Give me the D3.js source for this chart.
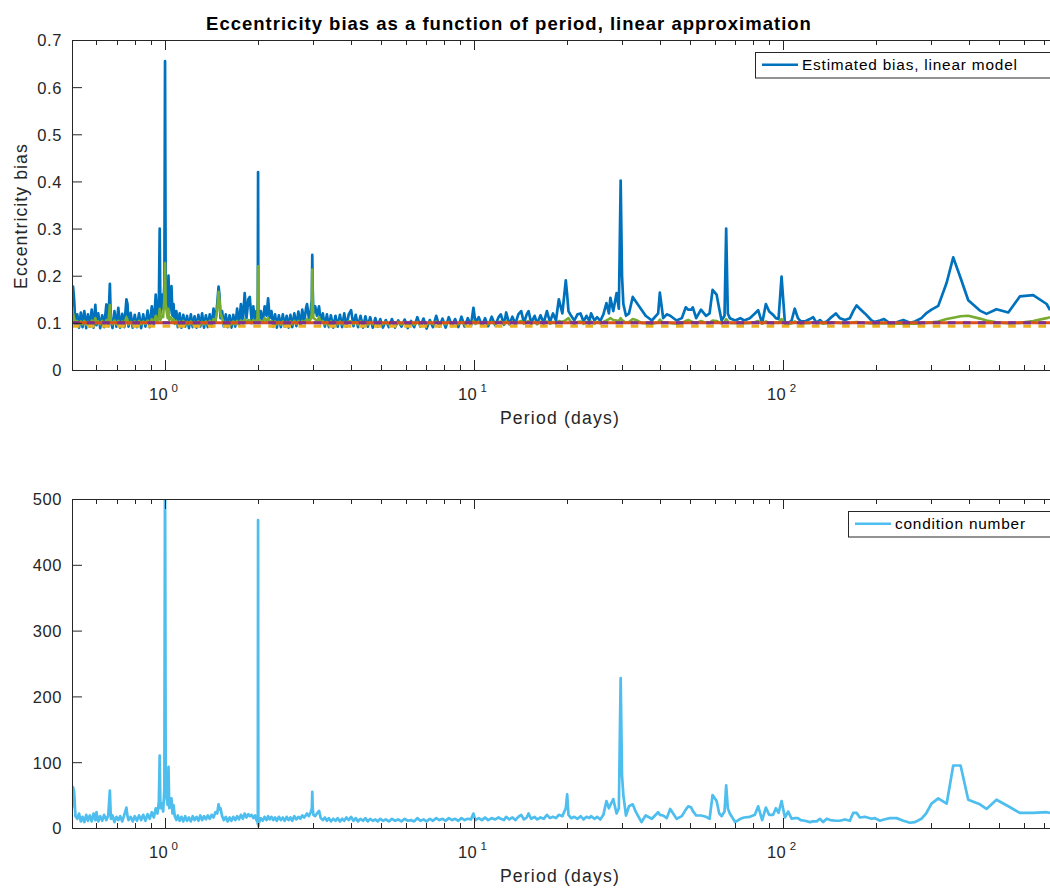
<!DOCTYPE html>
<html><head><meta charset="utf-8">
<script src="https://cdn.jsdelivr.net/npm/d3@7"></script>
<style>
body{margin:0;background:#fff}
svg{display:block}
</style>
</head><body>
<svg id="chart" width="1050" height="888"></svg>
<script>
// ---------------- DATA ----------------
const period = [
0.500,0.504,0.508,0.513,0.520,0.527,0.534,0.541,0.548,0.556,
0.563,0.571,0.579,0.587,0.595,0.600,0.608,0.617,0.626,0.635,
0.646,0.655,0.663,0.668,0.676,0.686,0.696,0.706,0.716,0.727,
0.738,0.750,0.756,0.762,0.774,0.786,0.798,0.811,0.824,0.837,
0.850,0.864,0.878,0.892,0.906,0.920,0.933,0.945,0.955,0.961,
0.966,0.975,0.986,0.995,1.000,1.005,1.012,1.020,1.026,1.032,
1.040,1.049,1.057,1.065,1.075,1.088,1.100,
1.115,1.130,1.146,1.162,1.178,1.195,1.212,1.229,1.246,1.264,
1.282,1.300,1.318,1.337,1.356,1.375,1.395,1.415,1.435,1.455,
1.475,1.490,1.500,1.512,1.530,1.550,1.572,1.594,1.617,1.640,
1.663,1.687,1.711,1.735,1.760,1.785,1.810,1.835,1.860,1.880,
1.905,1.930,1.955,1.975,1.990,1.996,2.000,2.004,2.012,
2.040,2.070,2.100,2.130,2.155,2.180,2.210,2.240,2.270,2.300,
2.335,2.370,2.405,2.440,2.475,2.510,2.545,2.580,2.620,2.660,
2.700,2.740,2.780,2.820,2.860,2.880,2.920,2.960,2.985,2.995,
3.005,3.020,3.060,3.100,3.150,3.190,3.240,3.290,3.340,3.390,
3.440,3.500,3.560,3.620,3.680,3.740,3.800,3.860,3.930,4.000,
4.070,4.140,4.210,4.290,4.370,4.450,4.530,4.610,4.700,4.790,
4.880,4.970,5.070,
5.18,5.30,5.42,5.55,5.68,5.82,5.96,6.10,6.25,6.40,
6.55,6.70,6.86,7.02,7.19,7.36,7.54,7.72,7.90,8.09,
8.28,8.48,8.68,8.89,9.10,9.32,9.54,9.77,9.95,10.1,
10.35,10.6,10.85,11.1,11.4,11.7,12.0,12.2,12.5,12.7,
13.0,13.3,13.6,13.9,14.2,14.5,14.8,15.0,15.3,15.7,
16.0,16.4,16.8,17.2,17.6,18.0,18.4,18.8,19.3,19.8,
20.0,20.2,20.6,
21.1,21.6,22.1,22.6,23.1,23.6,23.9,24.5,25.0,25.6,
26.2,26.8,27.3,27.6,28.2,28.9,29.4,29.8,30.1,30.4,
31.0,31.7,32.6,33.4,34.8,35.9,37.6,39.4,39.9,40.9,
42.0,43.1,45.2,47.0,48.4,49.3,50.4,51.0,52.3,54.2,
56.3,57.8,59.1,60.9,62.1,63.2,64.6,65.4,66.2,67.2,
69.9,72.7,74.8,
78,81,83,85.5,87.9,90.1,92.8,94.7,96.6,98.8,
101.3,103.8,106.5,109,111.6,114,117.5,122,125,128.3,
131.5,134.7,138.3,142,148,152.5,158.4,164.4,168.5,172.8,
177,183.8,193.2,198,205.6,212,221.4,232.8,244.7,257,
267,280,290,302,317.5,338,355,375,397,433,
455,490,535,583,644,712,730
];

// Estimated bias, linear model (blue)
const biasLinear = [
0.135,0.177,0.150,0.095,0.118,0.090,0.122,0.091,0.125,0.089,
0.118,0.092,0.128,0.090,0.138,0.095,0.120,0.089,0.116,0.091,
0.139,0.093,0.183,0.105,0.089,0.125,0.092,0.132,0.090,0.119,
0.091,0.150,0.140,0.092,0.121,0.090,0.117,0.091,0.120,0.089,
0.118,0.092,0.126,0.091,0.135,0.095,0.160,0.110,0.140,0.300,
0.120,0.160,0.130,0.180,0.655,0.160,0.175,0.130,0.200,0.120,
0.150,0.178,0.115,0.140,0.100,0.125,0.091,
0.120,0.090,0.117,0.092,0.115,0.089,0.118,0.091,0.114,0.090,
0.117,0.092,0.120,0.090,0.116,0.091,0.118,0.092,0.130,0.100,
0.140,0.177,0.160,0.110,0.125,0.092,0.118,0.091,0.116,0.090,
0.117,0.092,0.130,0.095,0.140,0.100,0.163,0.110,0.150,0.155,
0.105,0.135,0.105,0.125,0.110,0.150,0.420,0.130,0.105,
0.125,0.100,0.135,0.115,0.152,0.110,0.125,0.092,0.118,0.090,
0.116,0.091,0.118,0.092,0.115,0.090,0.117,0.091,0.120,0.093,
0.124,0.095,0.128,0.100,0.132,0.140,0.110,0.125,0.150,0.244,
0.170,0.120,0.135,0.115,0.135,0.100,0.120,0.092,0.118,0.091,
0.116,0.090,0.115,0.092,0.117,0.091,0.120,0.092,0.118,0.127,
0.093,0.117,0.091,0.115,0.090,0.114,0.092,0.112,0.090,0.110,
0.092,0.108,0.090,
0.106,0.091,0.108,0.090,0.105,0.092,0.107,0.089,0.104,0.091,
0.112,0.092,0.109,0.088,0.106,0.091,0.115,0.092,0.109,0.090,
0.112,0.093,0.108,0.091,0.113,0.092,0.110,0.094,0.132,0.100,
0.112,0.094,0.110,0.093,0.113,0.095,0.112,0.118,0.096,0.122,
0.097,0.113,0.098,0.118,0.125,0.100,0.118,0.125,0.100,0.115,
0.098,0.116,0.100,0.125,0.102,0.120,0.105,0.150,0.120,0.190,
0.160,0.125,0.115,
0.105,0.118,0.120,0.103,0.115,0.104,0.120,0.105,0.112,0.104,
0.118,0.142,0.120,0.153,0.125,0.163,0.130,0.402,0.200,0.140,
0.115,0.120,0.155,0.145,0.128,0.115,0.105,0.120,0.164,0.110,
0.118,0.115,0.105,0.110,0.133,0.128,0.128,0.133,0.110,0.128,
0.115,0.120,0.170,0.160,0.130,0.105,0.115,0.300,0.120,0.110,
0.105,0.110,0.105,
0.110,0.120,0.127,0.099,0.140,0.124,0.117,0.110,0.108,0.198,
0.100,0.099,0.105,0.130,0.110,0.103,0.103,0.108,0.112,0.100,
0.106,0.100,0.103,0.110,0.120,0.110,0.106,0.110,0.125,0.137,
0.130,0.120,0.105,0.102,0.105,0.108,0.099,0.101,0.106,0.100,
0.103,0.110,0.120,0.128,0.136,0.185,0.239,0.195,0.148,0.126,
0.119,0.129,0.122,0.156,0.159,0.140,0.127
];

// second bias estimate (green)
const biasOther = [
0.105,0.120,0.110,0.098,0.104,0.097,0.103,0.097,0.104,0.096,
0.102,0.097,0.105,0.098,0.110,0.099,0.103,0.097,0.104,0.096,
0.106,0.099,0.138,0.104,0.097,0.105,0.097,0.104,0.097,0.103,
0.098,0.112,0.106,0.097,0.102,0.097,0.103,0.096,0.104,0.097,
0.103,0.098,0.105,0.098,0.108,0.100,0.115,0.104,0.112,0.130,
0.106,0.115,0.112,0.150,0.227,0.140,0.125,0.110,0.130,0.106,
0.112,0.110,0.103,0.108,0.098,0.104,0.097,
0.103,0.097,0.104,0.096,0.102,0.097,0.103,0.097,0.102,0.096,
0.103,0.097,0.102,0.097,0.103,0.097,0.104,0.098,0.108,0.104,
0.125,0.166,0.150,0.120,0.110,0.098,0.102,0.097,0.102,0.097,
0.103,0.097,0.104,0.098,0.105,0.099,0.108,0.100,0.106,0.105,
0.099,0.106,0.100,0.105,0.110,0.140,0.220,0.120,0.100,
0.104,0.102,0.110,0.104,0.110,0.101,0.104,0.097,0.103,0.097,
0.102,0.096,0.103,0.097,0.102,0.096,0.103,0.097,0.104,0.098,
0.104,0.099,0.104,0.100,0.106,0.108,0.102,0.108,0.120,0.213,
0.140,0.110,0.108,0.102,0.112,0.100,0.104,0.097,0.102,0.096,
0.103,0.097,0.102,0.097,0.103,0.097,0.102,0.097,0.104,0.103,
0.097,0.102,0.097,0.103,0.097,0.102,0.096,0.102,0.097,0.101,
0.097,0.102,0.097,
0.102,0.097,0.101,0.097,0.102,0.096,0.101,0.097,0.102,0.096,
0.102,0.097,0.101,0.096,0.102,0.097,0.103,0.097,0.101,0.097,
0.102,0.097,0.101,0.097,0.102,0.097,0.101,0.098,0.104,0.098,
0.102,0.097,0.101,0.097,0.102,0.097,0.102,0.103,0.097,0.103,
0.098,0.102,0.097,0.102,0.104,0.098,0.102,0.104,0.098,0.102,
0.097,0.102,0.098,0.103,0.098,0.102,0.099,0.104,0.102,0.106,
0.108,0.110,0.102,
0.098,0.102,0.103,0.098,0.102,0.098,0.103,0.098,0.102,0.099,
0.102,0.105,0.108,0.110,0.106,0.105,0.104,0.110,0.106,0.104,
0.100,0.102,0.108,0.106,0.100,0.099,0.098,0.101,0.107,0.100,
0.101,0.100,0.098,0.099,0.104,0.106,0.103,0.102,0.099,0.104,
0.100,0.100,0.105,0.104,0.101,0.099,0.102,0.108,0.103,0.100,
0.099,0.100,0.099,
0.100,0.102,0.104,0.098,0.103,0.100,0.099,0.101,0.100,0.108,
0.098,0.097,0.099,0.103,0.100,0.098,0.099,0.100,0.101,0.099,
0.100,0.098,0.099,0.100,0.101,0.100,0.099,0.100,0.101,0.102,
0.101,0.100,0.099,0.098,0.099,0.099,0.098,0.098,0.099,0.098,
0.098,0.099,0.100,0.101,0.103,0.108,0.111,0.114,0.115,0.109,
0.105,0.101,0.099,0.100,0.104,0.110,0.112
];

// condition number (light blue, lower panel)
const condNumber = [
30,62,55,18,14,22,10,17,9,20,
11,19,10,22,12,24,10,18,11,20,
12,19,57,14,19,9,17,12,18,10,
20,31,18,12,17,10,18,11,19,12,
20,11,21,14,24,16,30,22,40,110,
30,38,25,60,560,60,45,35,93,30,
40,45,22,35,18,12,19,
11,17,10,18,11,16,10,18,12,17,
11,19,12,18,13,19,14,20,16,24,
22,36,28,30,18,12,17,10,16,11,
17,12,18,13,20,14,22,16,21,18,
20,15,19,12,10,6,468,3,8,
15,11,17,12,18,13,17,12,16,11,
17,12,16,11,17,12,16,11,18,13,
17,14,19,16,20,22,18,24,30,55,
30,20,18,22,26,15,12,16,11,15,
10,14,11,15,10,14,11,16,12,17,
11,15,10,14,11,15,10,14,11,13,
10,14,11,
13,10,14,11,13,10,14,11,12,10,
15,11,13,10,14,11,15,12,14,11,
15,12,14,11,15,12,14,13,22,12,
15,12,16,12,15,13,16,14,12,17,
13,16,12,17,20,13,16,22,14,17,
13,16,14,20,15,17,15,20,18,30,
51,20,15,
17,14,18,13,17,15,18,14,17,13,
20,41,30,35,44,22,30,228,80,50,
19,33,36,24,9,19,14,24,20,19,
15,29,14,18,28,33,31,26,19,19,
17,14,50,41,22,18,25,65,30,22,
9,14,16,
17,20,33,12,31,20,20,30,23,41,
16,25,14,15,15,12,11,9,10,10,
14,9,14,12,11,11,13,11,23,23,
16,17,14,15,11,13,15,15,11,8,
9,14,22,37,45,37,95,95,43,36,
29,43,33,23,23,24,23
];

// constant reference levels in the upper panel
const levelOrange = 0.1;
const levelPurple = 0.1;
const levelYellow = 0.093;

// axis ticks
const xDomain = [0.5, 730];
const xMajorTicks = [1, 10, 100];
const xMajorExps = ["0", "1", "2"];
const xMinorTicks = [0.6,0.7,0.8,0.9,2,3,4,5,6,7,8,9,20,30,40,50,60,70,80,90,200,300,400,500,600,700];
const yTicksTop = [0,0.1,0.2,0.3,0.4,0.5,0.6,0.7];
const yTickLabelsTop = ["0","0.1","0.2","0.3","0.4","0.5","0.6","0.7"];
const yTicksBottom = [0,100,200,300,400,500];
const yTickLabelsBottom = ["0","100","200","300","400","500"];

const titleText = "Eccentricity bias as a function of period, linear approximation";
const xLabelText = "Period (days)";
const yLabelTopText = "Eccentricity bias";
const legendTopText = "Estimated bias, linear model";
const legendBottomText = "condition number";

// ---------------- DRAWING ----------------
const FONT = '"Liberation Sans", Arial, Helvetica, sans-serif';
const AX = "#262626";
const C = {blue:"#0072BD", orange:"#D95319", yellow:"#EDB120", purple:"#7E2F8E", green:"#77AC30", light:"#4DBEEE"};
const n = Math.min(period.length, biasLinear.length, biasOther.length, condNumber.length);
const idx = d3.range(n);

const svg = d3.select("#chart");
const x = d3.scaleLog().domain(xDomain).range([72, 1050]);

function panel(cfg){
  const {id, top, bottom, y} = cfg;
  const g = svg.append("g");
  svg.append("clipPath").attr("id", id).append("rect")
    .attr("x", 72).attr("y", top).attr("width", 990).attr("height", bottom - top);
  const plot = g.append("g").attr("clip-path", `url(#${id})`);

  cfg.series.forEach(s => {
    if (s.values) {
      const line = d3.line().x(i => x(period[i])).y(i => y(s.values[i]));
      plot.append("path").attr("d", line(idx))
        .attr("fill","none").attr("stroke", s.color).attr("stroke-width", s.width)
        .attr("stroke-linejoin","round");
    } else {
      plot.append("line")
        .attr("x1", x(xDomain[0])).attr("x2", x(xDomain[1]))
        .attr("y1", y(s.level)).attr("y2", y(s.level))
        .attr("stroke", s.color).attr("stroke-width", s.width)
        .attr("stroke-dasharray", s.dash || null);
    }
  });

  // y axis (ticks inward)
  const ya = g.append("g").attr("transform","translate(72,0)")
    .call(d3.axisLeft(y).tickValues(cfg.yTicks).tickFormat((d,i)=>cfg.yLabels[i])
      .tickSizeInner(-10).tickSizeOuter(0).tickPadding(10));
  ya.select(".domain").remove();
  ya.selectAll("line").attr("stroke", AX);
  ya.selectAll("text").attr("font-family", FONT).attr("font-size", 16.5)
    .attr("fill", AX).attr("letter-spacing", 0.6).attr("dy","0.36em");

  // frame (left, bottom, top)
  g.append("path")
    .attr("d", `M72.5,${top+0.5}V${bottom+0.5}M72,${bottom+0.5}H1050M72,${top+0.5}H1050`)
    .attr("fill","none").attr("stroke", AX).attr("stroke-width", 1);

  // x ticks on bottom and top edges
  const tk = g.append("g").attr("stroke", AX).attr("stroke-width", 1);
  xMajorTicks.forEach(t => {
    const px = Math.round(x(t)) + 0.5;
    tk.append("line").attr("x1",px).attr("x2",px).attr("y1",bottom).attr("y2",bottom-10);
    tk.append("line").attr("x1",px).attr("x2",px).attr("y1",top).attr("y2",top+10);
  });
  xMinorTicks.forEach(t => {
    const px = Math.round(x(t)) + 0.5;
    tk.append("line").attr("x1",px).attr("x2",px).attr("y1",bottom).attr("y2",bottom-5);
    tk.append("line").attr("x1",px).attr("x2",px).attr("y1",top).attr("y2",top+5);
  });
  // x tick labels 10^k
  xMajorTicks.forEach((t,i) => {
    const px = x(t);
    g.append("text").attr("x", px+3).attr("y", bottom+30).attr("text-anchor","end")
      .attr("font-family",FONT).attr("font-size",16.5).attr("fill",AX).attr("letter-spacing",0.4).text("10");
    g.append("text").attr("x", px+6.5).attr("y", bottom+22.3).attr("text-anchor","start")
      .attr("font-family",FONT).attr("font-size",11.5).attr("fill",AX).text(xMajorExps[i]);
  });
  // x label
  g.append("text").attr("x", 560).attr("y", bottom+54.3).attr("text-anchor","middle")
    .attr("font-family",FONT).attr("font-size",17.6).attr("fill",AX).attr("letter-spacing",1.2)
    .text(xLabelText);

  // legend
  const lg = g.append("g");
  lg.append("rect").attr("x", cfg.legX+0.5).attr("y", top+12.5).attr("width", 400).attr("height", 25.5)
    .attr("fill","#fff").attr("stroke", AX).attr("stroke-width",1);
  lg.append("line").attr("x1", cfg.legX+7).attr("x2", cfg.legX+43).attr("y1", top+24.8).attr("y2", top+24.8)
    .attr("stroke", cfg.legColor).attr("stroke-width", 2.6);
  lg.append("text").attr("x", cfg.legX+47).attr("y", top+29.8)
    .attr("font-family",FONT).attr("font-size",15.4).attr("fill","#000").attr("letter-spacing",0.8)
    .text(cfg.legText);
  return g;
}

const yTop = d3.scaleLinear().domain([0,0.7]).range([370,40]);
const yBot = d3.scaleLinear().domain([0,500]).range([828,499]);

panel({id:"clipTop", top:40, bottom:370, y:yTop, yTicks:yTicksTop, yLabels:yTickLabelsTop,
  legX:755, legColor:C.blue, legText:legendTopText,
  series:[
    {values:biasLinear, color:C.blue, width:2.7},
    {values:biasOther, color:C.green, width:2.6},
    {level:levelOrange, color:C.orange, width:3},
    {level:levelYellow, color:C.yellow, width:3, dash:"7.6,7.5"},
    {level:levelPurple, color:C.purple, width:3, dash:"7.6,7.5"}
  ]});

panel({id:"clipBot", top:499, bottom:828, y:yBot, yTicks:yTicksBottom, yLabels:yTickLabelsBottom,
  legX:848, legColor:C.light, legText:legendBottomText,
  series:[ {values:condNumber, color:C.light, width:2.7} ]});

// title
svg.append("text").attr("x", 509).attr("y", 30).attr("text-anchor","middle")
  .attr("font-family",FONT).attr("font-size",18.5).attr("font-weight","bold").attr("fill","#000")
  .attr("letter-spacing",1.0).text(titleText);

// y label (upper panel)
svg.append("text").attr("transform","translate(27,216) rotate(-90)").attr("text-anchor","middle")
  .attr("font-family",FONT).attr("font-size",17.6).attr("fill",AX).attr("letter-spacing",1.1)
  .text(yLabelTopText);
</script>
</body></html>
